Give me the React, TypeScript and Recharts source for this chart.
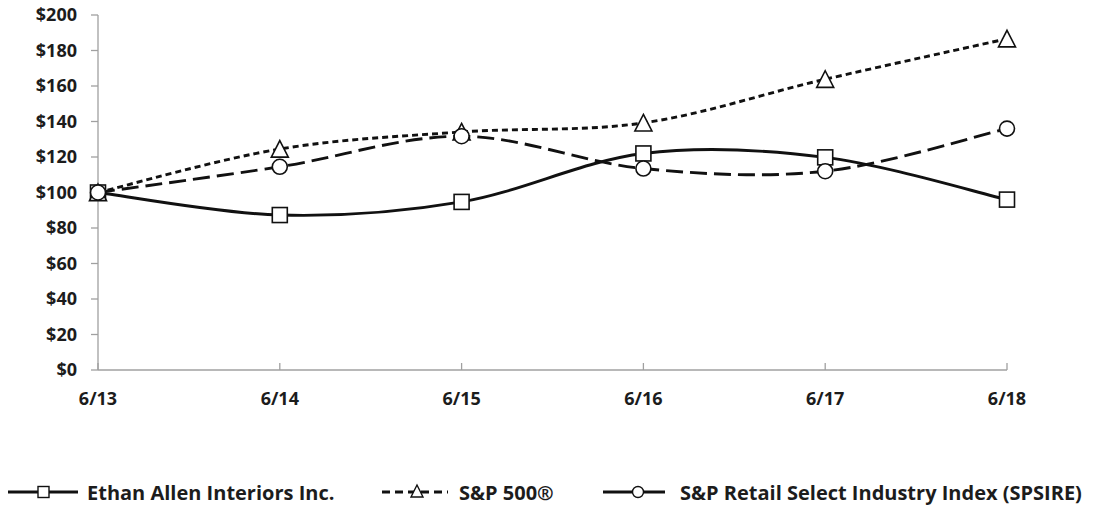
import { LineChart, Line, XAxis, YAxis } from 'recharts'

const periods = ['6/13', '6/14', '6/15', '6/16', '6/17', '6/18']
const ethanAllen = [100, 87.3, 94.7, 122, 119.8, 96]
const sp500 = [100, 124.5, 134.1, 139.2, 163.8, 186.6]
const spsire = [100, 114.5, 131.7, 113.5, 112, 136]
const yTicks = [0, 20, 40, 60, 80, 100, 120, 140, 160, 180, 200]

const data = periods.map((p, i) => ({
  period: p,
  ethan: ethanAllen[i],
  sp: sp500[i],
  retail: spsire[i],
}))

const INK = '#111'
const TEXT = '#1c1c1c'
const AXIS = '#a0a0a0'
const FONT = '"Open Sans", sans-serif'

// Excel-style smoothed line (Catmull-Rom through every point)
function excelSmooth(context: any) {
  let pts: number[][] = []
  return {
    areaStart() {},
    areaEnd() {},
    lineStart() { pts = [] },
    point(x: number, y: number) { pts.push([+x, +y]) },
    lineEnd() {
      const n = pts.length
      if (!n) return
      context.moveTo(pts[0][0], pts[0][1])
      for (let i = 0; i < n - 1; i++) {
        const p0 = pts[Math.max(i - 1, 0)]
        const p1 = pts[i]
        const p2 = pts[i + 1]
        const p3 = pts[Math.min(i + 2, n - 1)]
        context.bezierCurveTo(
          p1[0] + (p2[0] - p0[0]) / 6, p1[1] + (p2[1] - p0[1]) / 6,
          p2[0] - (p3[0] - p1[0]) / 6, p2[1] - (p3[1] - p1[1]) / 6,
          p2[0], p2[1],
        )
      }
    },
  }
}

const SquareDot = (p: any) => {
  if (p.cx == null || p.cy == null) return <g key={p.index} />
  return <rect key={p.index} x={p.cx - 7.5} y={p.cy - 7.5} width={15} height={15} fill="#fff" stroke={INK} strokeWidth={1.6} />
}

const TriangleDot = (p: any) => {
  if (p.cx == null || p.cy == null) return <g key={p.index} />
  const s = 8.5
  return (
    <polygon
      key={p.index}
      points={`${p.cx},${p.cy - s} ${p.cx + s},${p.cy + s * 0.95} ${p.cx - s},${p.cy + s * 0.95}`}
      fill="#fff"
      stroke={INK}
      strokeWidth={1.6}
    />
  )
}

const CircleDot = (p: any) => {
  if (p.cx == null || p.cy == null) return <g key={p.index} />
  return <circle key={p.index} cx={p.cx} cy={p.cy} r={7.5} fill="#fff" stroke={INK} strokeWidth={1.6} />
}

const XTick = ({ x, y, payload }: any) => (
  <g>
    <line x1={x} x2={x} y1={y} y2={y - 7} stroke={AXIS} strokeWidth={1.3} />
    <text x={x} y={y + 35} textAnchor="middle" fill={TEXT} fontSize={18} fontWeight={700} fontFamily={FONT}>
      {payload.value}
    </text>
  </g>
)

const legendText = { fontFamily: FONT, fontSize: 20, fontWeight: 700, color: TEXT, whiteSpace: 'nowrap' as const }

function Legend() {
  const row = { position: 'absolute' as const, top: 480, height: 24, display: 'flex', alignItems: 'center' }
  return (
    <>
      <div style={{ ...row, left: 8 }}>
        <svg width={72} height={24}>
          <line x1={0} x2={70} y1={12} y2={12} stroke={INK} strokeWidth={2.9} />
          <rect x={30} y={6.5} width={11} height={11} fill="#fff" stroke={INK} strokeWidth={1.4} />
        </svg>
        <span style={{ ...legendText, marginLeft: 7 }}>Ethan Allen Interiors Inc.</span>
      </div>
      <div style={{ ...row, left: 382 }}>
        <svg width={66} height={24}>
          <line x1={0} x2={66} y1={12} y2={12} stroke={INK} strokeWidth={2.9} strokeDasharray="8 5" />
          <polygon points="35,5 41,17 29,17" fill="#fff" stroke={INK} strokeWidth={1.4} />
        </svg>
        <span style={{ ...legendText, marginLeft: 11 }}>S&amp;P 500®</span>
      </div>
      <div style={{ ...row, left: 603 }}>
        <svg width={64} height={24}>
          <line x1={0} x2={62} y1={12} y2={12} stroke={INK} strokeWidth={2.9} />
          <circle cx={35} cy={12} r={5.5} fill="#fff" stroke={INK} strokeWidth={1.4} />
        </svg>
        <span style={{ ...legendText, marginLeft: 13 }}>S&amp;P Retail Select Industry Index (SPSIRE)</span>
      </div>
    </>
  )
}

export default function App() {
  return (
    <div style={{ position: 'absolute', left: 0, top: 0, width: 1095, height: 508, background: '#fff' }}>
      <LineChart width={1095} height={508} data={data} margin={{ top: 15, right: 88, left: 0, bottom: 0 }}>
        <XAxis
          dataKey="period"
          height={138}
          tick={<XTick />}
          tickLine={false}
          tickSize={0}
          tickMargin={0}
          axisLine={{ stroke: AXIS, strokeWidth: 1.3 }}
          interval={0}
        />
        <YAxis
          width={98}
          domain={[0, 200]}
          ticks={yTicks}
          interval={0}
          tickFormatter={v => `$${v}`}
          tick={{ fill: TEXT, fontSize: 18, fontWeight: 700, fontFamily: FONT }}
          tickSize={7}
          tickMargin={14}
          tickLine={{ stroke: AXIS, strokeWidth: 1.3 }}
          axisLine={{ stroke: AXIS, strokeWidth: 1.3 }}
        />
        <Line dataKey="ethan" type={excelSmooth as any} stroke={INK} strokeWidth={2.9} dot={SquareDot} activeDot={false} isAnimationActive={false} />
        <Line dataKey="sp" type={excelSmooth as any} stroke={INK} strokeWidth={2.9} strokeDasharray="6 4" dot={TriangleDot} activeDot={false} isAnimationActive={false} />
        <Line dataKey="retail" type={excelSmooth as any} stroke={INK} strokeWidth={2.9} strokeDasharray="17 7" dot={CircleDot} activeDot={false} isAnimationActive={false} />
      </LineChart>
      <Legend />
    </div>
  )
}
